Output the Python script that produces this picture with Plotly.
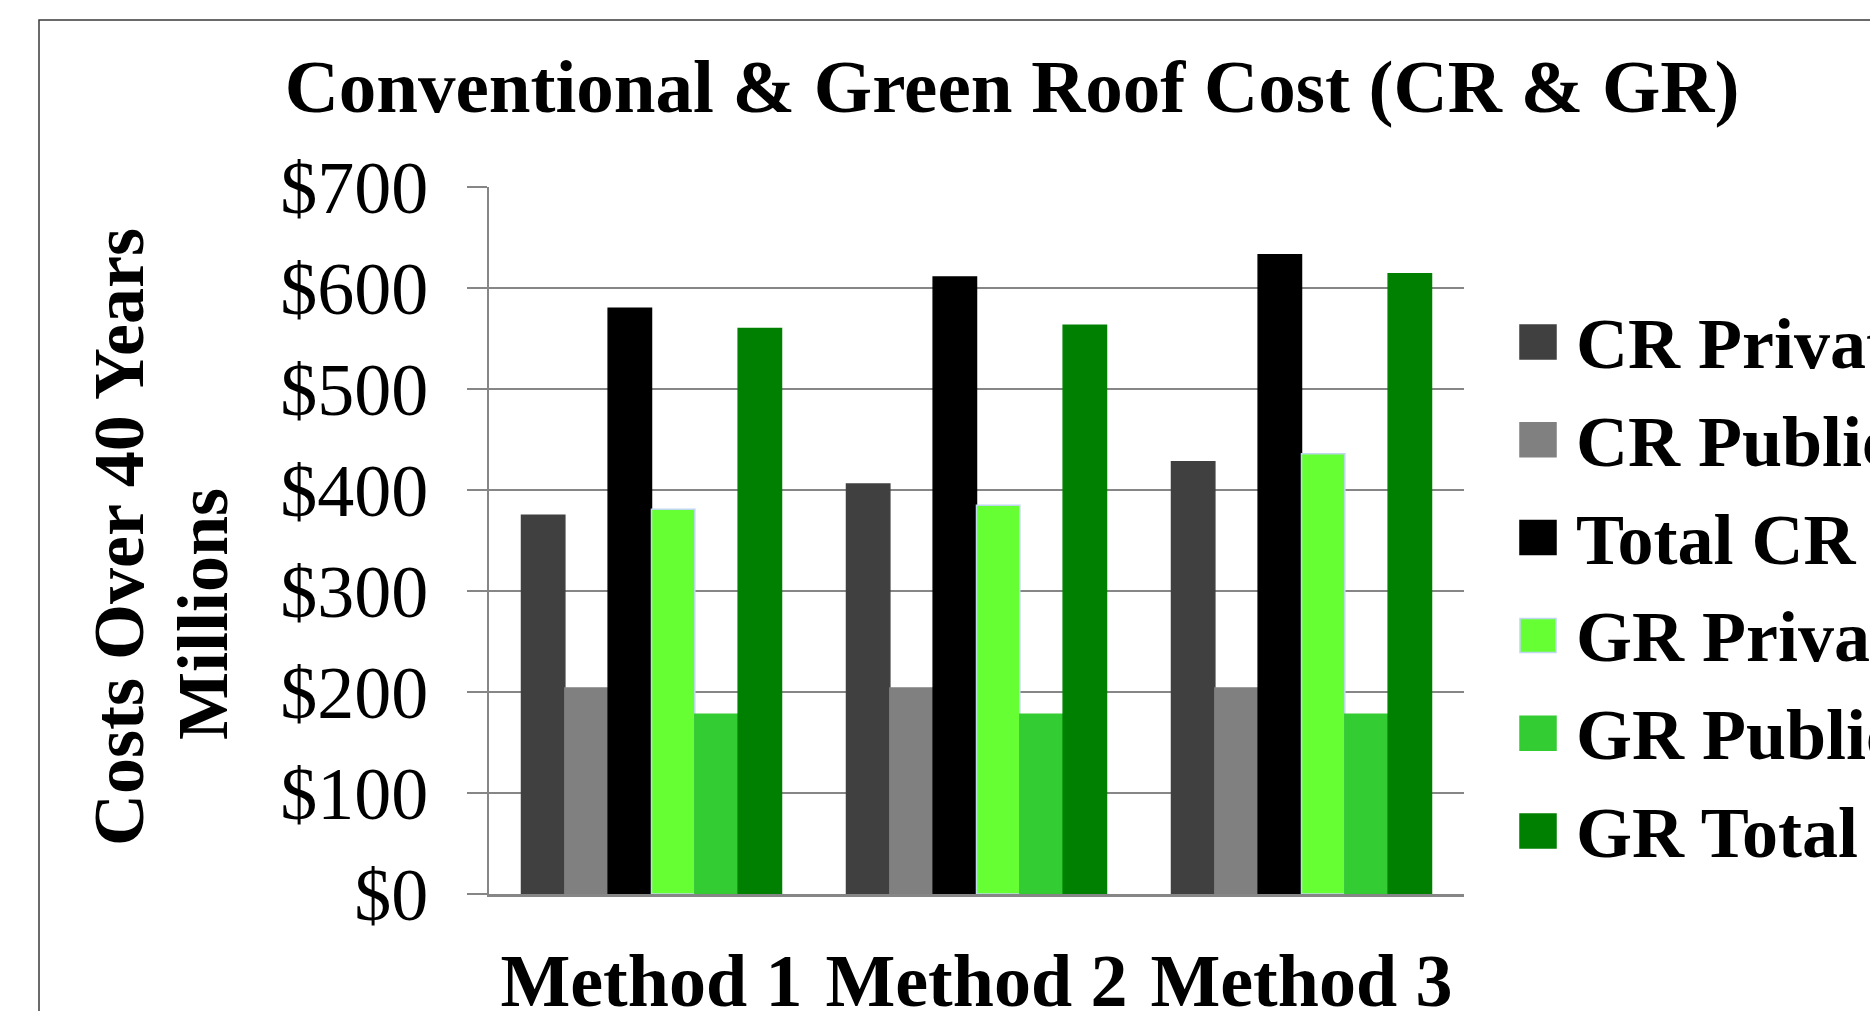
import plotly.graph_objects as go

categories = ["Method 1", "Method 2", "Method 3"]
series_names = ["CR Private", "CR Public", "Total CR", "GR Private", "GR Public", "GR Total"]
cr_private = [375, 406, 428]
cr_public = [204, 204, 204]
total_cr = [580, 611, 633]
gr_private = [381, 385, 436]
gr_public = [178, 178, 178]
gr_total = [560, 563, 614]
y_ticks = [0, 100, 200, 300, 400, 500, 600, 700]
y_tick_labels = ["$" + str(v) for v in y_ticks]

series_values = [cr_private, cr_public, total_cr, gr_private, gr_public, gr_total]
colors = ["#404040", "#808080", "#000000", "#66FF33", "#33CC33", "#008000"]
outlines = ["#404040", "#808080", "#000000", "#BDD7EE", "#33CC33", "#008000"]

W, H = 1870, 1011
L, R, T, B = 489, 406, 187, 117
PW, PH = W - L - R, H - T - B

def px_x(x):
    return (x - L) / PW

def px_y(y):
    return (H - B - y) / PH

FONT = "Liberation Serif, Times New Roman, serif"

fig = go.Figure()
for name, vals, c, oc in zip(series_names, series_values, colors, outlines):
    fig.add_trace(go.Bar(
        x=categories, y=vals, name=name,
        marker=dict(color=c, line=dict(color=oc, width=1.5)),
        showlegend=False,
    ))

annotations = [
    dict(text="<b>Costs Over 40 Years</b>", x=px_x(119), y=px_y(537), xref="paper", yref="paper",
         textangle=-90, showarrow=False, xanchor="center", yanchor="middle",
         font=dict(family=FONT, size=72, color="black")),
    dict(text="<b>Millions</b>", x=px_x(203), y=px_y(614), xref="paper", yref="paper",
         textangle=-90, showarrow=False, xanchor="center", yanchor="middle",
         font=dict(family=FONT, size=72, color="black")),
]
shapes = [
    dict(type="rect", xref="paper", yref="paper", x0=px_x(39), x1=px_x(2500), y0=px_y(1500), y1=px_y(20),
         line=dict(color="#3a3a3a", width=1.5), fillcolor="rgba(0,0,0,0)", layer="below"),
]
row0, step = 342, 97.8
for i, (name, c, oc) in enumerate(zip(series_names, colors, outlines)):
    yc = row0 + i * step
    shapes.append(dict(type="rect", xref="paper", yref="paper",
                       x0=px_x(1520), x1=px_x(1556), y0=px_y(yc + 17), y1=px_y(yc - 17),
                       fillcolor=c, line=dict(color=oc, width=1.5)))
    annotations.append(dict(text="<b>" + name + "</b>", x=px_x(1574), y=px_y(yc + 2), xref="paper", yref="paper",
                            showarrow=False, xanchor="left", yanchor="middle",
                            font=dict(family=FONT, size=72, color="black")))

fig.update_layout(
    width=W, height=H,
    margin=dict(l=L, r=R, t=T, b=B, pad=0, autoexpand=False),
    paper_bgcolor="white", plot_bgcolor="white",
    barmode="group", bargap=0.2, bargroupgap=0,
    title=dict(text="<b>Conventional & Green Roof Cost (CR & GR)</b>",
               x=px_x(1012), xref="paper", xanchor="center",
               y=1 - 86 / H, yref="container", yanchor="middle",
               font=dict(family=FONT, size=75, color="black")),
    annotations=annotations,
    shapes=shapes,
    showlegend=False,
)
fig.update_yaxes(
    range=[0, 700], tickmode="array", tickvals=y_ticks, ticktext=y_tick_labels,
    showgrid=True, gridcolor="#868686", gridwidth=2,
    showline=True, linecolor="#868686", linewidth=2,
    ticks="outside", ticklen=20, tickcolor="#868686", tickwidth=2,
    ticklabelstandoff=24, automargin=False,
    tickfont=dict(family=FONT, size=74, color="black"),
    zeroline=False,
)
fig.update_xaxes(
    showline=True, linecolor="#868686", linewidth=3,
    ticks="", showgrid=False,
    ticklabelstandoff=20, automargin=False,
    tickfont=dict(family=FONT, size=74, color="black"),
    tickprefix="<b>", ticksuffix="</b>",
)

fig.write_html("out.html", config={"displayModeBar": False},
               post_script="document.body.style.margin='0';document.body.style.overflow='hidden';")
